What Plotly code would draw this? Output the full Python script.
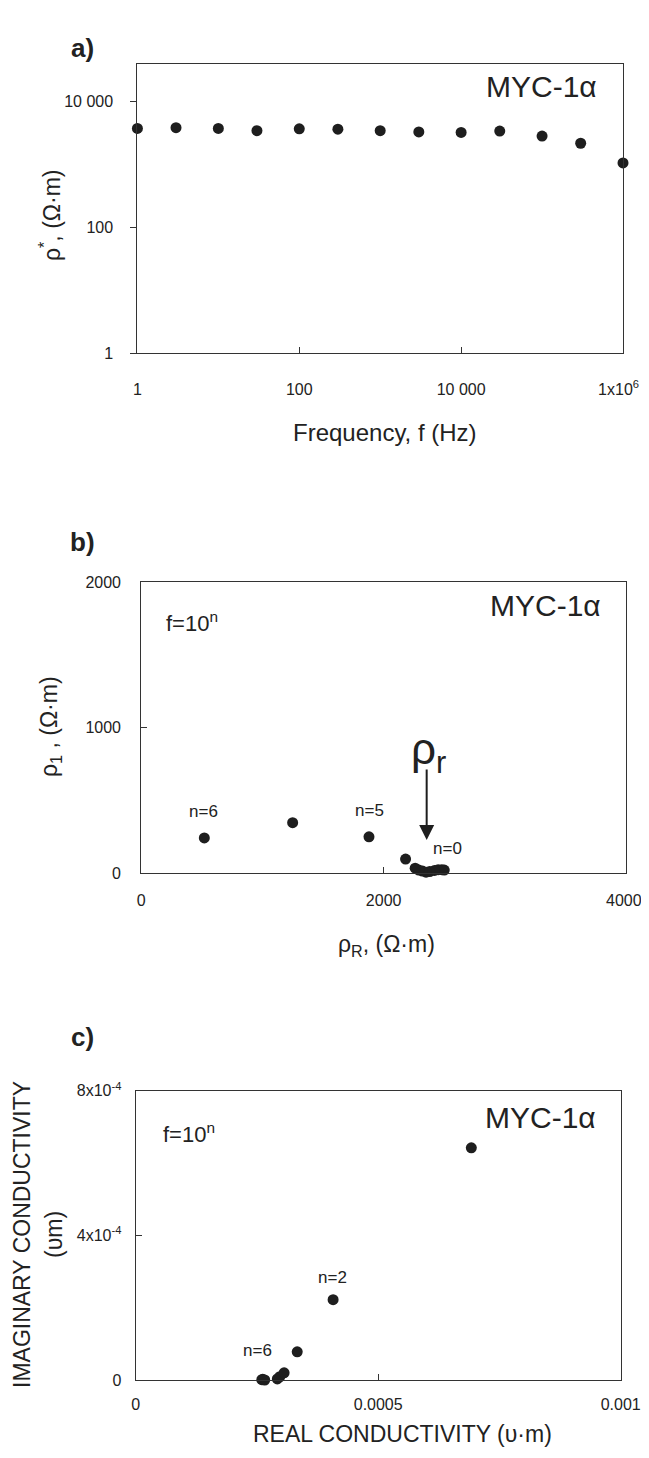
import plotly.graph_objects as go

# ---------------- data ----------------
# a) apparent resistivity vs frequency
freq = [1, 3, 10, 30, 100, 300, 1000, 3000, 10000, 30000, 100000, 300000, 1000000]
rho_mag = [3700, 3800, 3700, 3400, 3650, 3600, 3400, 3250, 3200, 3350, 2800, 2150, 1050]

# b) rho_R vs rho_1
rho_R = [2500, 2480, 2450, 2420, 2380, 2350, 2320, 2290, 2260, 2181, 1879, 1249, 520]
rho_1 = [22, 25, 25, 20, 12, 8, 15, 22, 35, 98, 251, 348, 243]

# c) real vs imaginary conductivity
sigma_R = [2.62e-4, 2.60e-4, 2.66e-4, 2.70e-4, 2.75e-4, 2.80e-4, 2.86e-4, 2.92e-4,
           2.97e-4, 3.06e-4, 3.33e-4, 4.07e-4, 6.92e-4]
sigma_I = [0.02e-4, 0.01e-4, 0.0, -0.02e-4, -0.04e-4, -0.05e-4, -0.07e-4, 0.03e-4,
           0.09e-4, 0.20e-4, 0.78e-4, 2.22e-4, 6.42e-4]

a_xticks = [1, 100, 10000, 1000000]
a_xtext = ["1", "100", "10 000", "1x10<sup>6</sup>\u00a0\u00a0"]
a_yticks = [1, 100, 10000]
a_ytext = ["1", "100", "10 000"]
b_xticks = [0, 2000, 4000]
b_xtext = ["0", "2000", "4000\u00a0"]
b_yticks = [0, 1000, 2000]
c_xticks = [0, 0.0005, 0.001]
c_xtext = ["0", "0.0005", "0.001"]
c_yticks = [0, 4e-4, 8e-4]
c_ytext = ["0", "4x10<sup>-4</sup>", "8x10<sup>-4</sup>"]

# ---------------- layout helpers ----------------
# the page body has an 8 px default margin, so the figure is drawn 8 px in
OFF = 8
W, H = 649 - OFF, 1458 - 2 * OFF
FONT = "Arial, Liberation Sans, sans-serif"
INK = "#1e1e1e"
TXT = "#222222"


def px(x):
    return (x - OFF) / W


def py(y):
    return 1 - (y - OFF) / H


mk = dict(size=11, color=INK)

fig = go.Figure()
fig.add_trace(go.Scatter(x=freq, y=rho_mag, mode="markers", marker=mk,
                         xaxis="x", yaxis="y", cliponaxis=False, showlegend=False))
fig.add_trace(go.Scatter(x=rho_R, y=rho_1, mode="markers", marker=mk,
                         xaxis="x2", yaxis="y2", cliponaxis=False, showlegend=False))
fig.add_trace(go.Scatter(x=sigma_R, y=sigma_I, mode="markers", marker=mk,
                         xaxis="x3", yaxis="y3", cliponaxis=False, showlegend=False))

axbase = dict(showline=True, mirror=True, linecolor="#333333", linewidth=1.2,
              showgrid=False, zeroline=False, ticklen=6, tickcolor="#333333",
              tickfont=dict(family=FONT, size=16, color=TXT), automargin=False,
              ticklabeloverflow="allow")

fig.update_layout(
    width=W, height=H,
    margin=dict(l=0, r=0, t=0, b=0, pad=0),
    paper_bgcolor="white", plot_bgcolor="white",
    showlegend=False,
    xaxis=dict(axbase, domain=[px(137.4), px(623)], anchor="y", type="log",
               range=[0, 6], tickvals=a_xticks, ticktext=a_xtext, ticks="inside",
               ticklabelstandoff=21),
    yaxis=dict(axbase, domain=[py(353.3), py(64)], anchor="x", type="log",
               range=[0, 4.59], tickvals=a_yticks, ticktext=a_ytext, ticks="outside",
               ticklabelstandoff=14),
    xaxis2=dict(axbase, domain=[px(141.3), px(626)], anchor="y2",
                range=[0, 4000], tickvals=b_xticks, ticktext=b_xtext, ticks="inside",
                ticklabelstandoff=12),
    yaxis2=dict(axbase, domain=[py(873.3), py(582.3)], anchor="x2",
                range=[0, 2000], tickvals=b_yticks, ticks="inside",
                ticklabelstandoff=16),
    xaxis3=dict(axbase, domain=[px(135.7), px(620.7)], anchor="y3",
                range=[0, 0.001], tickvals=c_xticks, ticktext=c_xtext, ticks="inside",
                ticklabelstandoff=10),
    yaxis3=dict(axbase, domain=[py(1380), py(1090.7)], anchor="x3",
                range=[0, 8e-4], tickvals=c_yticks, ticktext=c_ytext, ticks="inside",
                ticklabelstandoff=10),
)

ann = []


def t(text, x, y, size, xanchor="center", angle=0, bold=False):
    ann.append(dict(text=("<b>%s</b>" % text) if bold else text, x=px(x), y=py(y),
                    xref="paper", yref="paper", xanchor=xanchor, yanchor="middle",
                    showarrow=False, textangle=angle, borderpad=0,
                    font=dict(family=FONT, size=size, color=TXT)))


# panel labels
t("a)", 82, 48, 26, bold=True)
t("b)", 82, 542, 26, bold=True)
t("c)", 82, 1037, 26, bold=True)

# axis titles
t("Frequency, f (Hz)", 385, 433, 24)
t("ρ<sup>*</sup>, (Ω·m)", 50, 216, 23, angle=-90)
t("ρ<sub>R</sub>, (Ω·m)", 386, 945, 23)
t("ρ<sub>1</sub> , (Ω·m)", 50, 727, 23, angle=-90)
t("REAL CONDUCTIVITY (υ·m)", 402, 1434, 23)
t("IMAGINARY CONDUCTIVITY", 22, 1235, 23, angle=-90)
t("(υm)", 54, 1235, 23, angle=-90)

# sample names
t("MYC-1α", 598, 87, 30, xanchor="right")
t("MYC-1α", 602, 605, 30, xanchor="right")
t("MYC-1α", 597, 1117, 30, xanchor="right")

# frequency note
t("f=10<sup>n</sup>", 165, 622, 22, xanchor="left")
t("f=10<sup>n</sup>", 162, 1133, 22, xanchor="left")

# point labels
t("n=6", 203, 811, 17)
t("n=5", 369, 810, 17)
t("n=0", 447, 848, 17)
t("n=2", 333, 1277, 17)
t("n=6", 257, 1350, 17)

# rho_r marker with arrow
t("ρ<sub>r</sub>", 428, 752, 44)
ann.append(dict(x=2355, y=229, xref="x2", yref="y2", ax=0, ay=-72, axref="pixel",
                ayref="pixel", text="", showarrow=True, arrowhead=2, arrowsize=1.5,
                arrowwidth=2, arrowcolor=INK))

fig.update_layout(annotations=ann)
fig.write_html("out.html")
